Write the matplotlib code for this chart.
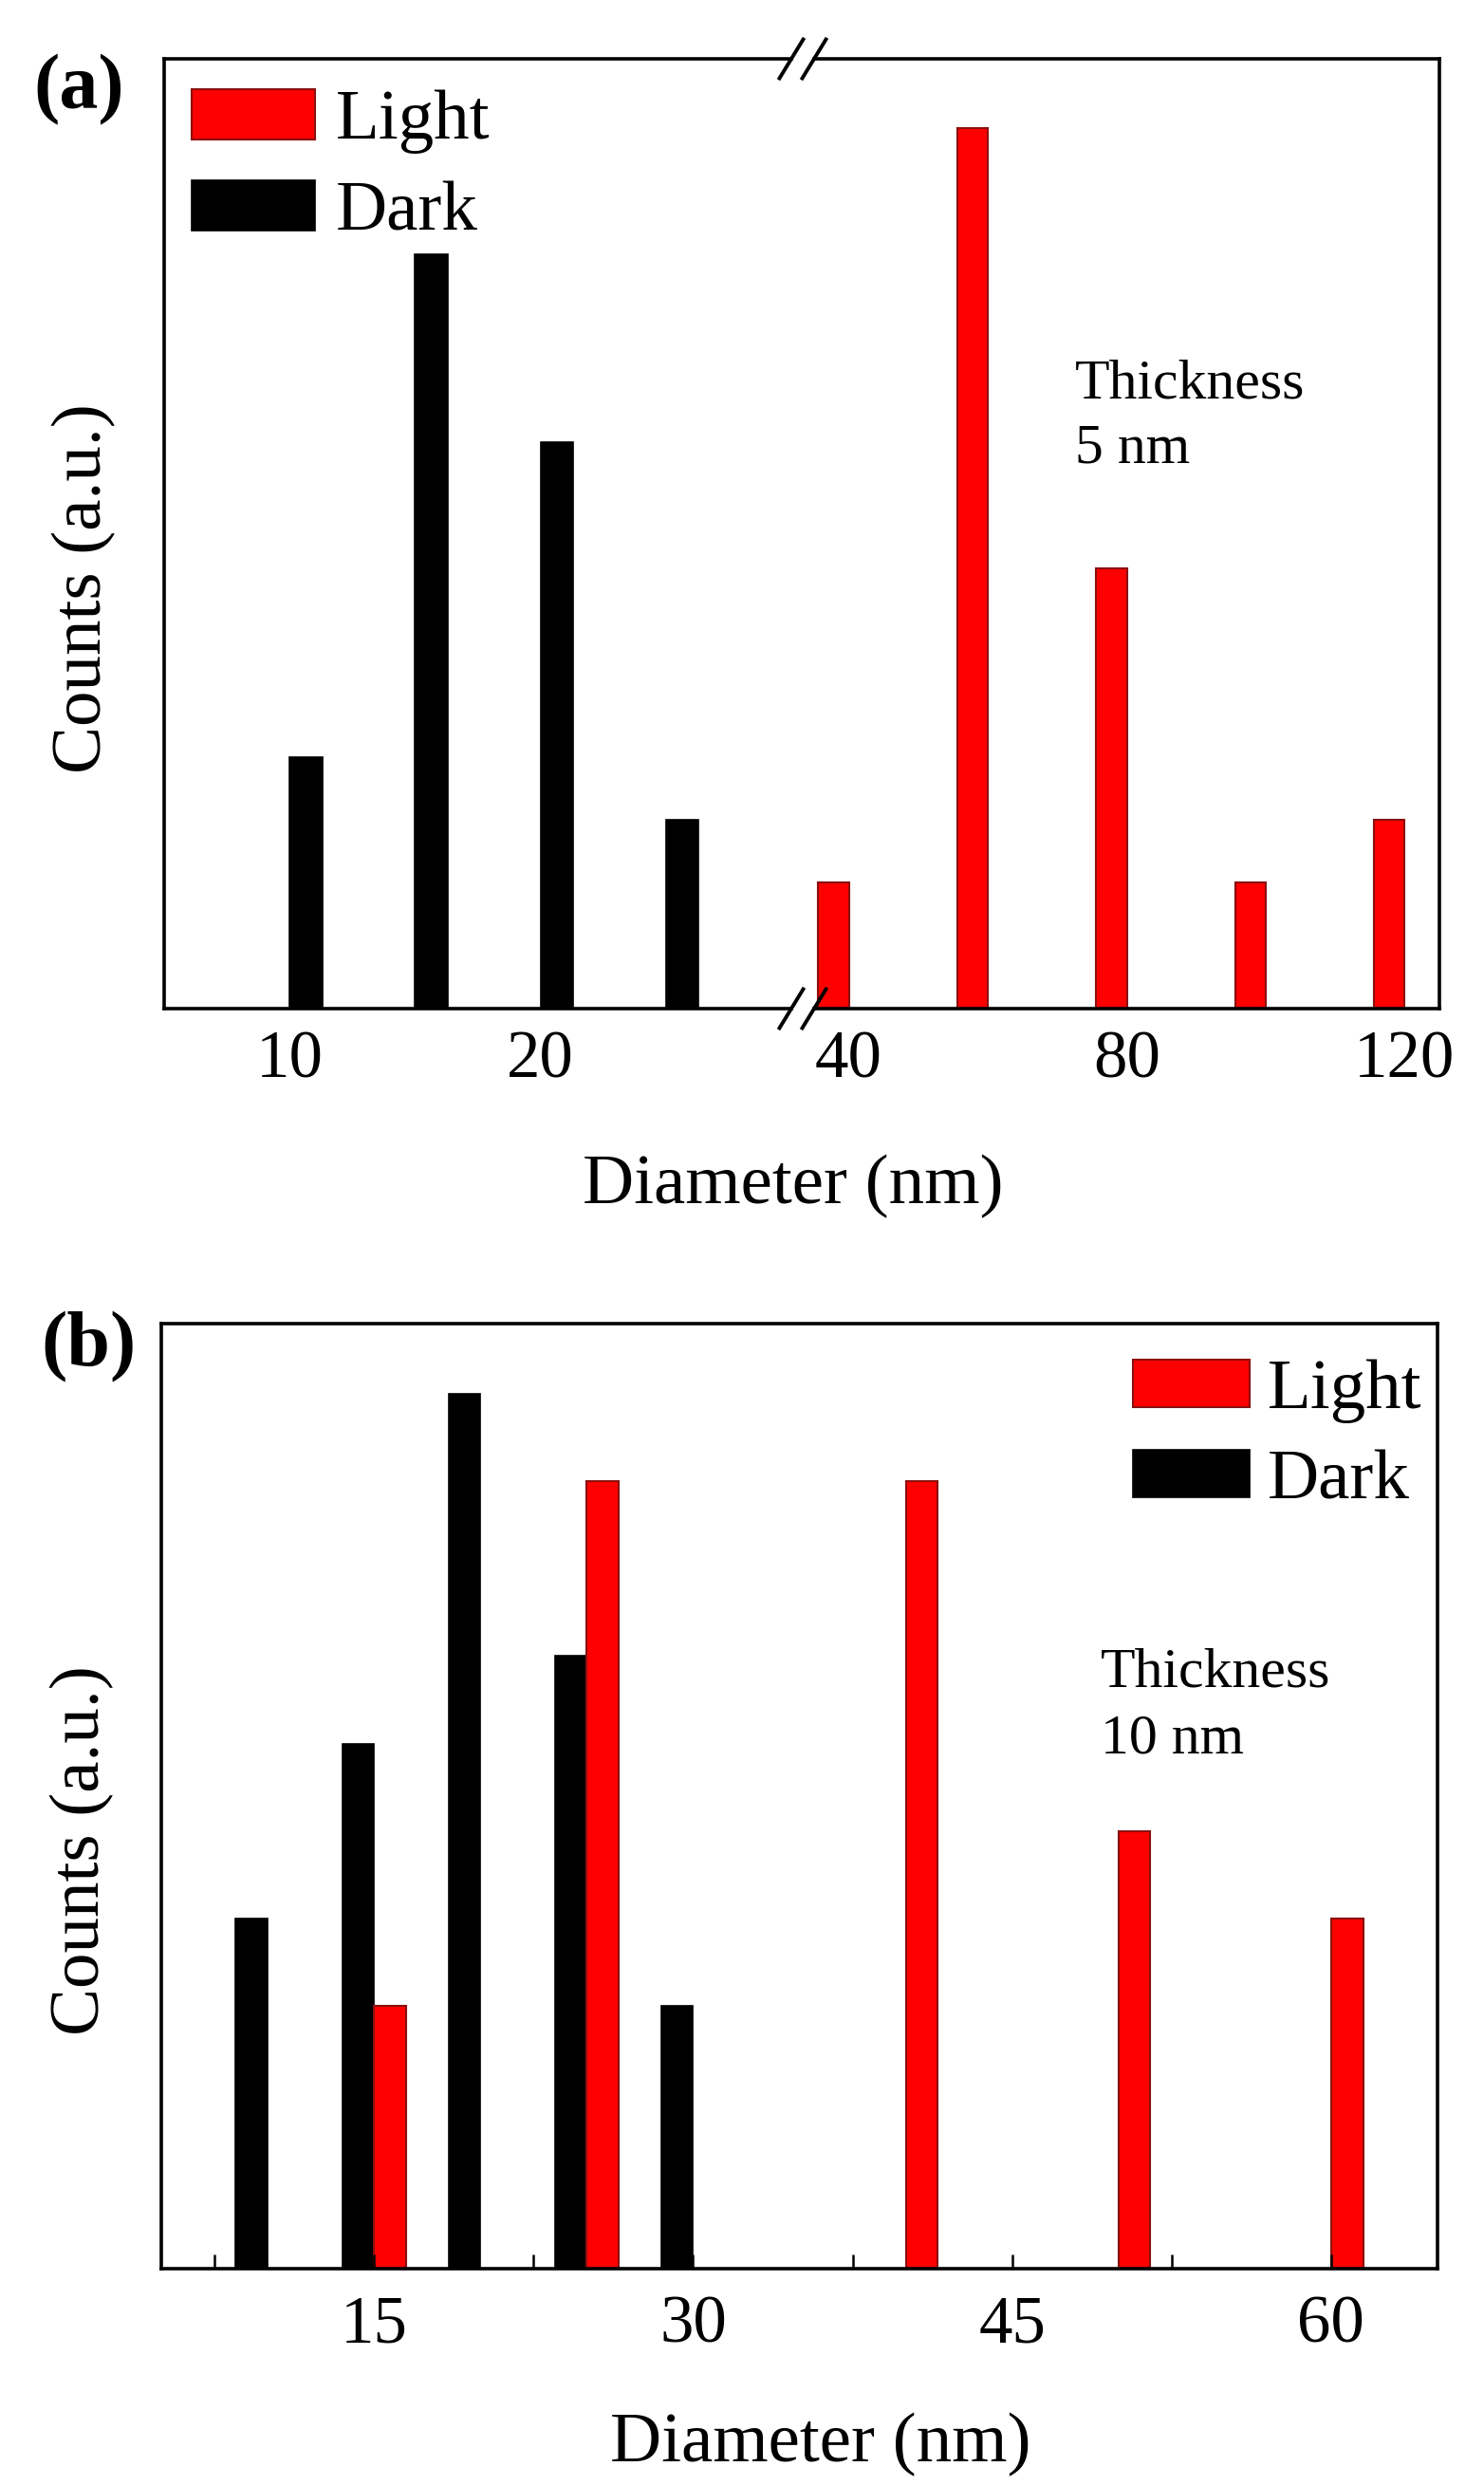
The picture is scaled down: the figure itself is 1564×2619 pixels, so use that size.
import matplotlib
matplotlib.use("Agg")
import matplotlib.pyplot as plt

plt.rcParams['font.family'] = ['Liberation Serif', 'DejaVu Serif']

# ---- datos panel (a): espesor 5 nm ----
a_dark_d = [10, 15, 20, 25]
a_dark_n = [4, 12, 9, 3]
a_light_d = [40, 60, 80, 100, 120]
a_light_n = [2, 14, 7, 2, 3]
a_ticks_left = [10, 20]
a_ticks_right = [40, 80, 120]

# ---- datos panel (b): espesor 10 nm ----
b_dark_d = [10, 15, 20, 25, 30]
b_dark_n = [4, 6, 10, 7, 3]
b_light_d = [15, 25, 40, 50, 60]
b_light_n = [3, 9, 9, 5, 4]
b_ticks = [15, 30, 45, 60]
b_minor = [7.5, 22.5, 37.5, 52.5]

ROJO = '#ff0000'
BORDE_ROJO = '#8b1010'
W, H = 1564, 2619


def caja(x0, y0, x1, y1):
    """rectangulo en pixeles -> fracciones de figura"""
    return [x0 / W, 1 - y1 / H, (x1 - x0) / W, (y1 - y0) / H]


def fx(x):
    return x / W


def fy(y):
    return 1 - y / H


def estilo_ejes(ax):
    for s in ax.spines.values():
        s.set_linewidth(2.6)
    ax.set_yticks([])


fig = plt.figure(figsize=(15.64, 26.19), dpi=100)

# ---------------- (a) eje x partido ----------------
axL = fig.add_axes(caja(173, 62, 834, 1063))
axR = fig.add_axes(caja(858, 62, 1517, 1063))

axL.bar(a_dark_d, a_dark_n, width=1.3, align='edge', color='black',
        edgecolor='black', linewidth=1.2, label='Dark')
axR.bar(a_light_d, a_light_n, width=-4.4, align='edge', color=ROJO,
        edgecolor=BORDE_ROJO, linewidth=1.5, label='Light')

axL.set_xlim(5, 30)
axR.set_xlim(35, 125)
for ax in (axL, axR):
    ax.set_ylim(0, 15.1)
    estilo_ejes(ax)
    ax.tick_params(axis='x', length=0, labelsize=51, pad=16)
axL.set_xticks(a_ticks_left)
axR.set_xticks(a_ticks_right)
axL.spines['right'].set_visible(False)
axR.spines['left'].set_visible(False)

# marcas de corte //
dxL, dyL = 12.5 / 661, 20.5 / 1001
dxR = 12.5 / 659
for yy in (0, 1):
    axL.plot([1 - dxL, 1 + dxL], [yy - dyL, yy + dyL], transform=axL.transAxes,
             color='black', lw=2.8, clip_on=False)
    axR.plot([-dxR, dxR], [yy - dyL, yy + dyL], transform=axR.transAxes,
             color='black', lw=2.8, clip_on=False)

hL, lL = axR.get_legend_handles_labels()
hD, lD = axL.get_legend_handles_labels()
axL.legend(hL + hD, lL + lD, loc='upper left', bbox_to_anchor=(fx(202), fy(94)),
           bbox_transform=fig.transFigure, frameon=False, fontsize=54,
           borderpad=0, borderaxespad=0, handlelength=1.73, handleheight=0.7,
           handletextpad=0.3, labelspacing=0.37)

fig.text(fx(1133), fy(420), 'Thickness', fontsize=43, va='baseline', ha='left')
fig.text(fx(1133), fy(488), '5 nm', fontsize=43, va='baseline', ha='left')
fig.text(fx(836), fy(1250), 'Diameter (nm)', fontsize=54, ha='center', va='center')
fig.text(fx(88), fy(620), 'Counts (a.u.)', fontsize=54, rotation=90,
         ha='center', va='center')
fig.text(fx(35), fy(57), '(a)', fontsize=59, fontweight='bold', ha='left', va='top')

# ---------------- (b) ----------------
axB = fig.add_axes(caja(170, 1395, 1515, 2391))
axB.bar(b_dark_d, b_dark_n, width=-1.5, align='edge', color='black',
        edgecolor='black', linewidth=1.2, label='Dark')
axB.bar(b_light_d, b_light_n, width=1.5, align='edge', color=ROJO,
        edgecolor=BORDE_ROJO, linewidth=1.5, label='Light')
axB.set_xlim(5, 65)
axB.set_ylim(0, 10.8)
estilo_ejes(axB)
axB.set_xticks(b_ticks)
axB.set_xticks(b_minor, minor=True)
axB.tick_params(axis='x', which='both', direction='in', length=11, width=1.8,
                labelsize=51, pad=20)

hB, lB = axB.get_legend_handles_labels()
axB.legend(hB[::-1], lB[::-1], loc='upper left', bbox_to_anchor=(fx(1194), fy(1433)),
           bbox_transform=fig.transFigure, frameon=False, fontsize=54,
           borderpad=0, borderaxespad=0, handlelength=1.64, handleheight=0.65,
           handletextpad=0.25, labelspacing=0.37)

fig.text(fx(1160), fy(1777), 'Thickness', fontsize=43, va='baseline', ha='left')
fig.text(fx(1160), fy(1847), '10 nm', fontsize=43, va='baseline', ha='left')
fig.text(fx(865), fy(2576), 'Diameter (nm)', fontsize=54, ha='center', va='center')
fig.text(fx(86), fy(1950), 'Counts (a.u.)', fontsize=54, rotation=90,
         ha='center', va='center')
fig.text(fx(43), fy(1382), '(b)', fontsize=59, fontweight='bold', ha='left', va='top')

fig.savefig('out.png', dpi=100)
